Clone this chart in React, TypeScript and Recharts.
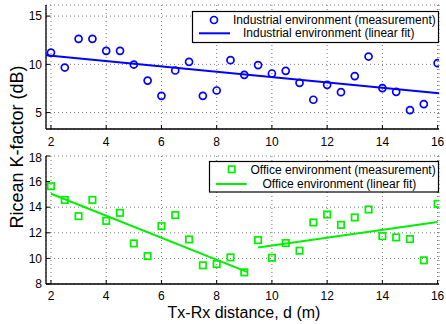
import React from "react";
import { ScatterChart, Scatter, XAxis, YAxis, CartesianGrid } from "recharts";

// Tx-Rx distance (m), same sweep for both environments
const distances = [2, 2.5, 3, 3.5, 4, 4.5, 5, 5.5, 6, 6.5, 7, 7.5, 8, 8.5, 9, 9.5, 10, 10.5, 11, 11.5, 12, 12.5, 13, 13.5, 14, 14.5, 15, 15.5, 16];
const industrialK = [11.22, 9.67, 12.64, 12.64, 11.4, 11.4, 9.98, 8.32, 6.74, 9.36, 10.26, 6.74, 7.29, 10.43, 8.91, 9.92, 9.05, 9.33, 8.08, 6.33, 7.88, 7.12, 8.78, 10.81, 7.54, 7.15, 5.26, 5.88, 10.12];
const officeK = [15.64, 14.57, 13.3, 14.57, 12.93, 13.56, 11.17, 10.18, 12.52, 13.38, 11.48, 9.46, 9.56, 10.08, 8.91, 11.43, 10.05, 11.2, 10.6, 12.81, 13.43, 12.62, 13.2, 13.82, 11.74, 11.64, 11.51, 9.85, 14.26];

// linear fits: [x, k] end points
const industrialFit = [[1.82, 10.95], [16.05, 7.0]];
const officeFitNear = [[2, 15.05], [9.1, 8.95]];
const officeFitFar = [[9.5, 10.85], [16, 12.85]];

const xTicks = [2, 4, 6, 8, 10, 12, 14, 16];
const industrialTicks = [5, 10, 15];
const officeTicks = [8, 10, 12, 14, 16, 18];

const X_DOMAIN: [number, number] = [1.82, 16.05];
const FONT = '"Liberation Sans", Arial, Helvetica, sans-serif';
const BLUE = "#0000ff";
const GREEN = "#00f000";

const toPoints = (xs: number[], ys: number[]) => xs.map((x, i) => ({ x, y: ys[i] }));
const fitPoints = (pairs: number[][]) => pairs.map(([x, y]) => ({ x, y }));

const tickStyle = { fontSize: 12, fill: "#000", fontFamily: FONT };
const noLabel = () => <g />;

function Panel({
  height, top, yDomain, yTicks, tickMargin, children,
}: {
  height: number; top: number; yDomain: [number, number]; yTicks: number[]; tickMargin: number; children: React.ReactNode;
}) {
  return (
    <ScatterChart width={446} height={height} margin={{ top, right: 7, left: 0, bottom: 0 }}>
      <CartesianGrid stroke="#777" strokeDasharray="1 3" horizontal vertical />
      <XAxis
        type="number" dataKey="x" domain={X_DOMAIN} ticks={xTicks} allowDataOverflow
        height={height - top - (height === 150 ? 124 : 128)}
        tickSize={-4} tickMargin={tickMargin} tick={tickStyle}
        axisLine={{ stroke: "#000", strokeWidth: 1.3 }} tickLine={{ stroke: "#000" }}
      />
      <XAxis
        xAxisId="top" orientation="top" type="number" domain={X_DOMAIN} ticks={xTicks} allowDataOverflow
        height={0} tickSize={-4} tick={noLabel}
        axisLine={{ stroke: "#000", strokeWidth: 1.3 }} tickLine={{ stroke: "#000" }}
      />
      <YAxis
        type="number" dataKey="y" domain={yDomain} ticks={yTicks} allowDataOverflow width={46}
        tickSize={-4} tickMargin={8} tick={tickStyle}
        axisLine={{ stroke: "#000", strokeWidth: 1.3 }} tickLine={{ stroke: "#000" }}
      />
      <YAxis
        yAxisId="right" orientation="right" type="number" domain={yDomain} ticks={yTicks} allowDataOverflow width={0}
        tickSize={-4} tick={noLabel}
        axisLine={{ stroke: "#000", strokeWidth: 1.3 }} tickLine={{ stroke: "#000" }}
      />
      {children}
    </ScatterChart>
  );
}

export default function App() {
  return (
    <div style={{ position: "absolute", left: 0, top: 0, width: 446, height: 324, background: "#fff", fontFamily: FONT }}>
      <div style={{ position: "absolute", left: 0, top: 0 }}>
        <Panel height={150} top={5} yDomain={[3.3, 16.15]} yTicks={industrialTicks} tickMargin={12}>
          <Scatter
            data={fitPoints(industrialFit)} isAnimationActive={false}
            line={{ stroke: BLUE, strokeWidth: 2 }} shape={() => <g />}
          />
          <Scatter
            data={toPoints(distances, industrialK)} isAnimationActive={false}
            shape={(p: any) => <circle cx={p.cx} cy={p.cy} r={3.5} fill="none" stroke={BLUE} strokeWidth={1.7} />}
          />
        </Panel>
      </div>
      <div style={{ position: "absolute", left: 0, top: 150 }}>
        <Panel height={174} top={6} yDomain={[8, 18]} yTicks={officeTicks} tickMargin={11}>
          <Scatter
            data={fitPoints(officeFitNear)} isAnimationActive={false}
            line={{ stroke: GREEN, strokeWidth: 2 }} shape={() => <g />}
          />
          <Scatter
            data={fitPoints(officeFitFar)} isAnimationActive={false}
            line={{ stroke: GREEN, strokeWidth: 2 }} shape={() => <g />}
          />
          <Scatter
            data={toPoints(distances, officeK)} isAnimationActive={false}
            shape={(p: any) => <rect x={p.cx - 3.2} y={p.cy - 3.2} width={6.4} height={6.4} fill="none" stroke={GREEN} strokeWidth={1.7} />}
          />
        </Panel>
      </div>

      {/* legends and axis titles */}
      <svg width={446} height={324} style={{ position: "absolute", left: 0, top: 0, pointerEvents: "none" }}>
        <g fontFamily={FONT} fontSize={12} fill="#000">
          <rect x={192.5} y={11.5} width={246} height={31} fill="#fff" stroke="#000" strokeWidth={1.2} />
          <circle cx={214} cy={20} r={3.5} fill="none" stroke={BLUE} strokeWidth={1.7} />
          <text x={233} y={20} dominantBaseline="central">Industrial environment (measurement)</text>
          <line x1={199} x2={230} y1={33.3} y2={33.3} stroke={BLUE} strokeWidth={2} />
          <text x={243} y={33.3} dominantBaseline="central">Industrial environment (linear fit)</text>

          <rect x={209.5} y={161.5} width={229} height={30.5} fill="#fff" stroke="#000" strokeWidth={1.2} />
          <rect x={228.5} y={166.1} width={6.4} height={6.4} fill="none" stroke={GREEN} strokeWidth={1.7} />
          <text x={250.5} y={169.5} dominantBaseline="central">Office environment (measurement)</text>
          <line x1={216} x2={246.7} y1={184} y2={184} stroke={GREEN} strokeWidth={2} />
          <text x={262.5} y={183.8} dominantBaseline="central">Office environment (linear fit)</text>

          <text x={244} y={312} fontSize={16} textAnchor="middle" dominantBaseline="central">Tx-Rx distance, d (m)</text>
          <text x={0} y={0} fontSize={18} textAnchor="middle" dominantBaseline="central" transform="translate(16.5,147) rotate(-90)">Ricean K-factor (dB)</text>
        </g>
      </svg>
    </div>
  );
}
